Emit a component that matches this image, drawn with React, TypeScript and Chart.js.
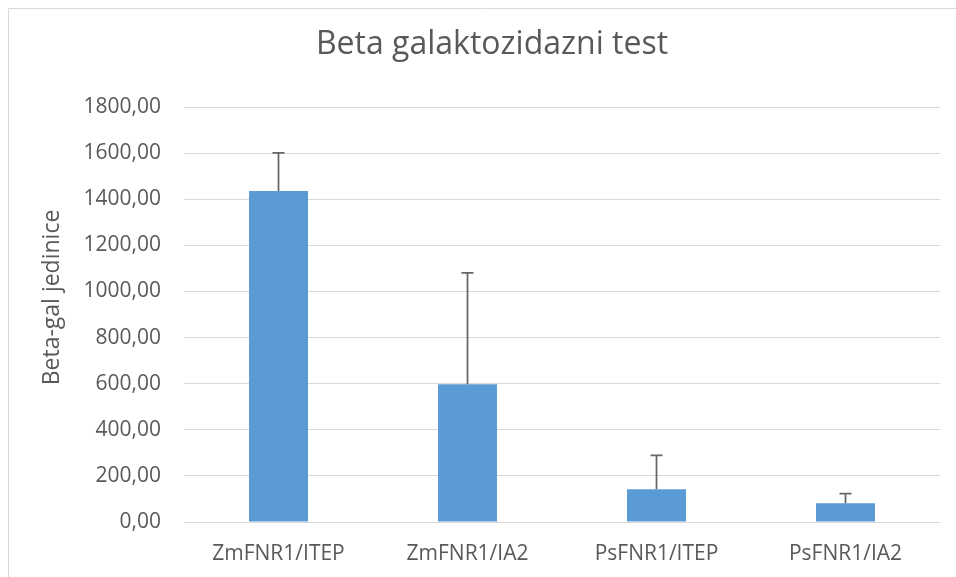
import React, { useEffect, useRef } from "react";
import { Chart, registerables } from "chart.js";

Chart.register(...registerables);

const categories = ["ZmFNR1/ITEP", "ZmFNR1/IA2", "PsFNR1/ITEP", "PsFNR1/IA2"];
const values = [1436, 598, 142, 81];
const errorsPlus = [165, 483, 147, 42];
const yTicksMax = 1800;
const yTickStep = 200;
const titleText = "Beta galaktozidazni test";
const yTitleText = "Beta-gal jedinice";

const FONT = "'Open Sans', sans-serif";
const TEXT = "#595959";
const GRID = "#d9d9d9";

const framePlugin = {
  id: "frame",
  beforeDraw(chart: any) {
    const ctx = chart.ctx;
    ctx.save();
    ctx.fillStyle = "#ffffff";
    ctx.fillRect(0, 0, chart.width, chart.height);
    ctx.strokeStyle = GRID;
    ctx.lineWidth = 1;
    ctx.beginPath();
    ctx.moveTo(8.5, chart.height);
    ctx.lineTo(8.5, 8.5);
    ctx.lineTo(chart.width, 8.5);
    ctx.stroke();
    ctx.restore();
  },
  afterDraw(chart: any) {
    const ctx = chart.ctx;
    const ca = chart.chartArea;
    ctx.save();
    ctx.fillStyle = TEXT;
    ctx.font = `32px ${FONT}`;
    ctx.textAlign = "center";
    ctx.textBaseline = "alphabetic";
    ctx.fillText(titleText, (ca.left + ca.right) / 2 - 70, 54);
    ctx.translate(52, (ca.top + ca.bottom) / 2 - 17);
    ctx.rotate(-Math.PI / 2);
    ctx.textBaseline = "middle";
    ctx.font = `23px ${FONT}`;
    ctx.fillText(yTitleText, 0, 0);
    ctx.restore();
  },
};

const errorBarPlugin = {
  id: "errorBars",
  afterDatasetsDraw(chart: any) {
    const ctx = chart.ctx;
    const meta = chart.getDatasetMeta(0);
    const yScale = chart.scales.y;
    ctx.save();
    ctx.strokeStyle = "#666666";
    ctx.lineWidth = 1.75;
    meta.data.forEach((bar: any, i: number) => {
      const top = yScale.getPixelForValue(values[i] + errorsPlus[i]);
      const base = yScale.getPixelForValue(values[i]);
      ctx.beginPath();
      ctx.moveTo(bar.x, base);
      ctx.lineTo(bar.x, top);
      ctx.moveTo(bar.x - 6, top);
      ctx.lineTo(bar.x + 6, top);
      ctx.stroke();
    });
    ctx.restore();
  },
};

export default function App() {
  const ref = useRef<HTMLCanvasElement>(null);
  useEffect(() => {
    if (!ref.current) return;
    const chart = new Chart(ref.current, {
      type: "bar",
      data: {
        labels: categories,
        datasets: [
          {
            data: values,
            backgroundColor: "#5b9bd5",
            borderWidth: 0,
            barPercentage: 1,
            categoryPercentage: 0.312,
          },
        ],
      },
      options: {
        responsive: false,
        animation: false,
        devicePixelRatio: 1,
        layout: { padding: { left: 0, right: 16, top: 107, bottom: 0 } },
        plugins: {
          legend: { display: false },
          title: { display: false },
          tooltip: { enabled: false },
        },
        scales: {
          x: {
            grid: { display: false, drawTicks: false, tickLength: 0 },
            border: { display: false },
            ticks: { color: TEXT, font: { family: FONT, size: 21 }, padding: 19, maxRotation: 0 },
            afterFit: (s: any) => {
              s.height = 55;
            },
          },
          y: {
            min: 0,
            max: yTicksMax,
            grid: { color: GRID, lineWidth: 1, drawTicks: false, tickLength: 0 },
            border: { display: false },
            ticks: {
              stepSize: yTickStep,
              color: TEXT,
              font: { family: FONT, size: 21 },
              padding: 23,
              callback: (v: any) => Number(v).toFixed(2).replace(".", ","),
            },
            afterFit: (s: any) => {
              s.width = 184;
            },
          },
        },
      },
      plugins: [framePlugin, errorBarPlugin],
    });
    return () => chart.destroy();
  }, []);
  return (
    <div style={{ position: "absolute", left: 0, top: 0, width: 956, height: 577 }}>
      <canvas ref={ref} width={956} height={577} />
    </div>
  );
}
